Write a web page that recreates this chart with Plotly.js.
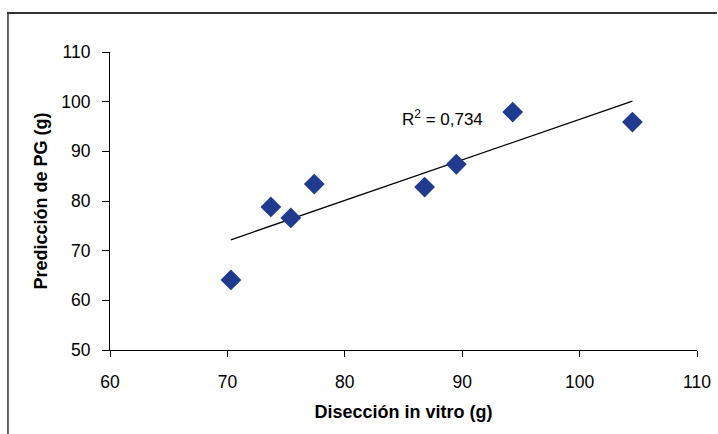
<!DOCTYPE html>
<html>
<head>
<meta charset="utf-8">
<script src="https://cdn.plot.ly/plotly-3.0.1.min.js"></script>
<style>
html,body{margin:0;padding:0;background:#fff;}
#chart{width:718px;height:434px;}
</style>
</head>
<body>
<div id="chart"></div>
<script>
var diseccion = [70.3, 73.7, 75.4, 77.4, 86.8, 89.5, 94.3, 104.5];
var prediccion = [64.1, 78.8, 76.6, 83.4, 82.8, 87.4, 97.9, 95.9];
var xTicks = [60, 70, 80, 90, 100, 110];
var yTicks = [50, 60, 70, 80, 90, 100, 110];
var r2Label = 'R<sup>2</sup> = 0,734';

// least-squares trendline computed from the data
var n = diseccion.length, mx = 0, my = 0;
for (var i = 0; i < n; i++) { mx += diseccion[i]; my += prediccion[i]; }
mx /= n; my /= n;
var sxy = 0, sxx = 0;
for (var i = 0; i < n; i++) { sxy += (diseccion[i]-mx)*(prediccion[i]-my); sxx += (diseccion[i]-mx)*(diseccion[i]-mx); }
var slope = sxy / sxx, icpt = my - slope*mx;
var xmin = Math.min.apply(null, diseccion), xmax = Math.max.apply(null, diseccion);
var tx = [xmin, xmax], ty = [icpt + slope*xmin, icpt + slope*xmax];

var fam = 'Liberation Sans, Arial, sans-serif';
var tickFont = {family: fam, size: 17.5, color: '#000'};
var titleFont = {family: fam, size: 18, color: '#000', weight: 'bold'};

var data = [
  {x: tx, y: ty, type: 'scatter', mode: 'lines', line: {color: '#000', width: 1.3}, hoverinfo: 'skip', showlegend: false},
  {x: diseccion, y: prediccion, type: 'scatter', mode: 'markers',
   marker: {symbol: 'diamond', size: 16, color: '#1F3A8F', line: {width: 0}}, showlegend: false}
];

var layout = {
  width: 718, height: 434,
  margin: {l: 110, r: 21, t: 52, b: 84},
  paper_bgcolor: '#fff', plot_bgcolor: '#fff',
  font: tickFont,
  showlegend: false,
  xaxis: {
    range: [60, 110], tickvals: xTicks, ticktext: xTicks.map(String),
    showgrid: false, zeroline: false, showline: true, linecolor: '#000', linewidth: 1,
    ticks: 'outside', ticklen: 6, tickcolor: '#000', tickwidth: 1,
    tickfont: tickFont, ticklabelstandoff: 10,
    title: {text: 'Disección in vitro (g)', font: titleFont, standoff: 14}
  },
  yaxis: {
    range: [50, 110], tickvals: yTicks, ticktext: yTicks.map(String),
    showgrid: false, zeroline: false, showline: true, linecolor: '#000', linewidth: 1,
    ticks: 'outside', ticklen: 7, tickcolor: '#000', tickwidth: 1,
    tickfont: tickFont, ticklabelstandoff: 8,
    title: {text: 'Predicción de PG (g)', font: titleFont, standoff: 8}
  },
  annotations: [
    {x: 91.9, y: 96.7, xref: 'x', yref: 'y', text: r2Label, showarrow: false,
     font: {family: fam, size: 17, color: '#000'}, xanchor: 'right', yanchor: 'middle'}
  ],
  shapes: [
    {type: 'line', xref: 'paper', yref: 'paper', x0: -0.1755, x1: 1.034, y0: 1.1309, y1: 1.1309, line: {color: '#333', width: 2}},
    {type: 'line', xref: 'paper', yref: 'paper', x0: -0.1738, x1: -0.1738, y0: 1.1309, y1: -0.3, line: {color: '#333', width: 1.5}}
  ]
};

Plotly.newPlot('chart', data, layout, {displayModeBar: false, staticPlot: true});
</script>
</body>
</html>
